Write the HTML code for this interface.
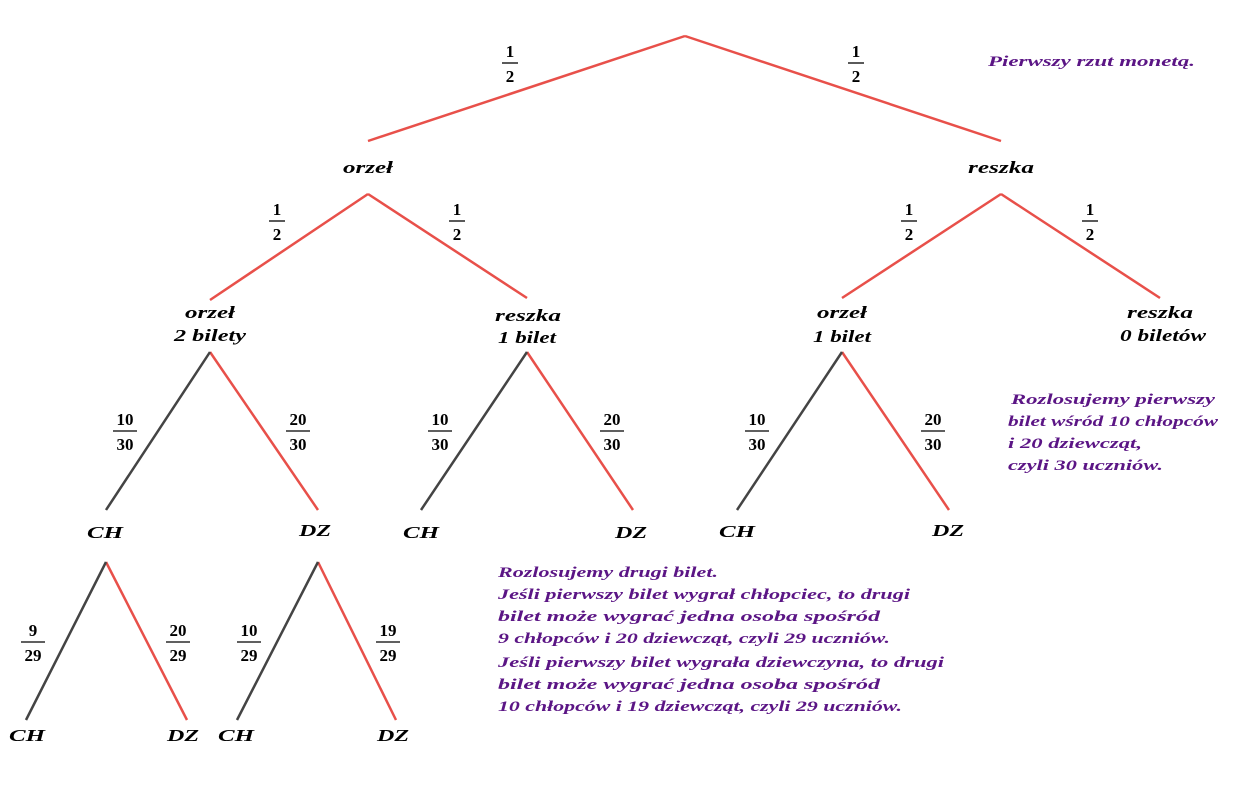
<!DOCTYPE html>
<html><head><meta charset="utf-8"><style>
html,body{margin:0;padding:0;background:#fff;}
svg{display:block;}
text{font-family:"Liberation Serif",serif;font-weight:bold;}
.i{font-style:italic;font-size:17px;}
.f{font-size:17px;text-anchor:middle;}
.p{font-style:italic;font-size:15px;fill:#5b1585;}
</style></head><body>
<svg width="1251" height="793" viewBox="0 0 1251 793" xmlns="http://www.w3.org/2000/svg">
<g stroke="#e8504a" stroke-width="2.5" fill="none">
<path d="M685 36 L368 141 M685 36 L1001 141"/>
<path d="M368 194 L210 300 M368 194 L527 298"/>
<path d="M1001 194 L842 298 M1001 194 L1160 298"/>
<path d="M210 352 L318 510 M527 352 L633 510 M842 352 L949 510"/>
<path d="M106 562 L187 720 M318 562 L396 720"/>
</g>
<g stroke="#444" stroke-width="2.5" fill="none">
<path d="M210 352 L106 510 M527 352 L421 510 M842 352 L737 510"/>
<path d="M106 562 L26 720 M318 562 L237 720"/>
</g>
<g class="i" text-anchor="middle" lengthAdjust="spacingAndGlyphs">
<text x="368" y="173" textLength="50" lengthAdjust="spacingAndGlyphs">orzeł</text>
<text x="1001" y="173" textLength="66" lengthAdjust="spacingAndGlyphs">reszka</text>
<text x="210" y="318" textLength="50" lengthAdjust="spacingAndGlyphs">orzeł</text>
<text x="210" y="341" textLength="72" lengthAdjust="spacingAndGlyphs">2 bilety</text>
<text x="528" y="321" textLength="66" lengthAdjust="spacingAndGlyphs">reszka</text>
<text x="527" y="343" textLength="58" lengthAdjust="spacingAndGlyphs">1 bilet</text>
<text x="842" y="318" textLength="50" lengthAdjust="spacingAndGlyphs">orzeł</text>
<text x="842" y="342" textLength="58" lengthAdjust="spacingAndGlyphs">1 bilet</text>
<text x="1160" y="318" textLength="66" lengthAdjust="spacingAndGlyphs">reszka</text>
<text x="1163" y="341" textLength="86" lengthAdjust="spacingAndGlyphs">0 biletów</text>
<text x="105" y="538" textLength="36" lengthAdjust="spacingAndGlyphs">CH</text>
<text x="315" y="536" textLength="32" lengthAdjust="spacingAndGlyphs">DZ</text>
<text x="421" y="538" textLength="36" lengthAdjust="spacingAndGlyphs">CH</text>
<text x="631" y="538" textLength="32" lengthAdjust="spacingAndGlyphs">DZ</text>
<text x="737" y="537" textLength="36" lengthAdjust="spacingAndGlyphs">CH</text>
<text x="948" y="536" textLength="32" lengthAdjust="spacingAndGlyphs">DZ</text>
<text x="27" y="741" textLength="36" lengthAdjust="spacingAndGlyphs">CH</text>
<text x="183" y="741" textLength="32" lengthAdjust="spacingAndGlyphs">DZ</text>
<text x="236" y="741" textLength="36" lengthAdjust="spacingAndGlyphs">CH</text>
<text x="393" y="741" textLength="32" lengthAdjust="spacingAndGlyphs">DZ</text>
</g>
<g class="f">
<text x="510" y="57">1</text><line x1="502" y1="63" x2="518" y2="63" stroke="#000" stroke-width="1.3"/><text x="510" y="82">2</text>
<text x="856" y="57">1</text><line x1="848" y1="63" x2="864" y2="63" stroke="#000" stroke-width="1.3"/><text x="856" y="82">2</text>
<text x="277" y="215">1</text><line x1="269" y1="221" x2="285" y2="221" stroke="#000" stroke-width="1.3"/><text x="277" y="240">2</text>
<text x="457" y="215">1</text><line x1="449" y1="221" x2="465" y2="221" stroke="#000" stroke-width="1.3"/><text x="457" y="240">2</text>
<text x="909" y="215">1</text><line x1="901" y1="221" x2="917" y2="221" stroke="#000" stroke-width="1.3"/><text x="909" y="240">2</text>
<text x="1090" y="215">1</text><line x1="1082" y1="221" x2="1098" y2="221" stroke="#000" stroke-width="1.3"/><text x="1090" y="240">2</text>

<text x="125" y="425">10</text><line x1="113" y1="431" x2="137" y2="431" stroke="#000" stroke-width="1.3"/><text x="125" y="450">30</text>
<text x="298" y="425">20</text><line x1="286" y1="431" x2="310" y2="431" stroke="#000" stroke-width="1.3"/><text x="298" y="450">30</text>
<text x="440" y="425">10</text><line x1="428" y1="431" x2="452" y2="431" stroke="#000" stroke-width="1.3"/><text x="440" y="450">30</text>
<text x="612" y="425">20</text><line x1="600" y1="431" x2="624" y2="431" stroke="#000" stroke-width="1.3"/><text x="612" y="450">30</text>
<text x="757" y="425">10</text><line x1="745" y1="431" x2="769" y2="431" stroke="#000" stroke-width="1.3"/><text x="757" y="450">30</text>
<text x="933" y="425">20</text><line x1="921" y1="431" x2="945" y2="431" stroke="#000" stroke-width="1.3"/><text x="933" y="450">30</text>

<text x="33" y="636">9</text><line x1="21" y1="642" x2="45" y2="642" stroke="#000" stroke-width="1.3"/><text x="33" y="661">29</text>
<text x="178" y="636">20</text><line x1="166" y1="642" x2="190" y2="642" stroke="#000" stroke-width="1.3"/><text x="178" y="661">29</text>
<text x="249" y="636">10</text><line x1="237" y1="642" x2="261" y2="642" stroke="#000" stroke-width="1.3"/><text x="249" y="661">29</text>
<text x="388" y="636">19</text><line x1="376" y1="642" x2="400" y2="642" stroke="#000" stroke-width="1.3"/><text x="388" y="661">29</text>
</g>
<g class="p">
<text x="988" y="66" textLength="207" lengthAdjust="spacingAndGlyphs">Pierwszy rzut monetą.</text>
<text x="1011" y="404" textLength="204" lengthAdjust="spacingAndGlyphs">Rozlosujemy pierwszy</text>
<text x="1008" y="426" textLength="210" lengthAdjust="spacingAndGlyphs">bilet wśród 10 chłopców</text>
<text x="1008" y="448" textLength="134" lengthAdjust="spacingAndGlyphs">i 20 dziewcząt,</text>
<text x="1008" y="470" textLength="155" lengthAdjust="spacingAndGlyphs">czyli 30 uczniów.</text>
<text x="498" y="577" textLength="220" lengthAdjust="spacingAndGlyphs">Rozlosujemy drugi bilet.</text>
<text x="498" y="599" textLength="412" lengthAdjust="spacingAndGlyphs">Jeśli pierwszy bilet wygrał chłopciec, to drugi</text>
<text x="498" y="621" textLength="382" lengthAdjust="spacingAndGlyphs">bilet może wygrać jedna osoba spośród</text>
<text x="498" y="643" textLength="392" lengthAdjust="spacingAndGlyphs">9 chłopców i 20 dziewcząt, czyli 29 uczniów.</text>
<text x="498" y="667" textLength="446" lengthAdjust="spacingAndGlyphs">Jeśli pierwszy bilet wygrała dziewczyna, to drugi</text>
<text x="498" y="689" textLength="382" lengthAdjust="spacingAndGlyphs">bilet może wygrać jedna osoba spośród</text>
<text x="498" y="711" textLength="404" lengthAdjust="spacingAndGlyphs">10 chłopców i 19 dziewcząt, czyli 29 uczniów.</text>
</g>
</svg>
</body></html>
